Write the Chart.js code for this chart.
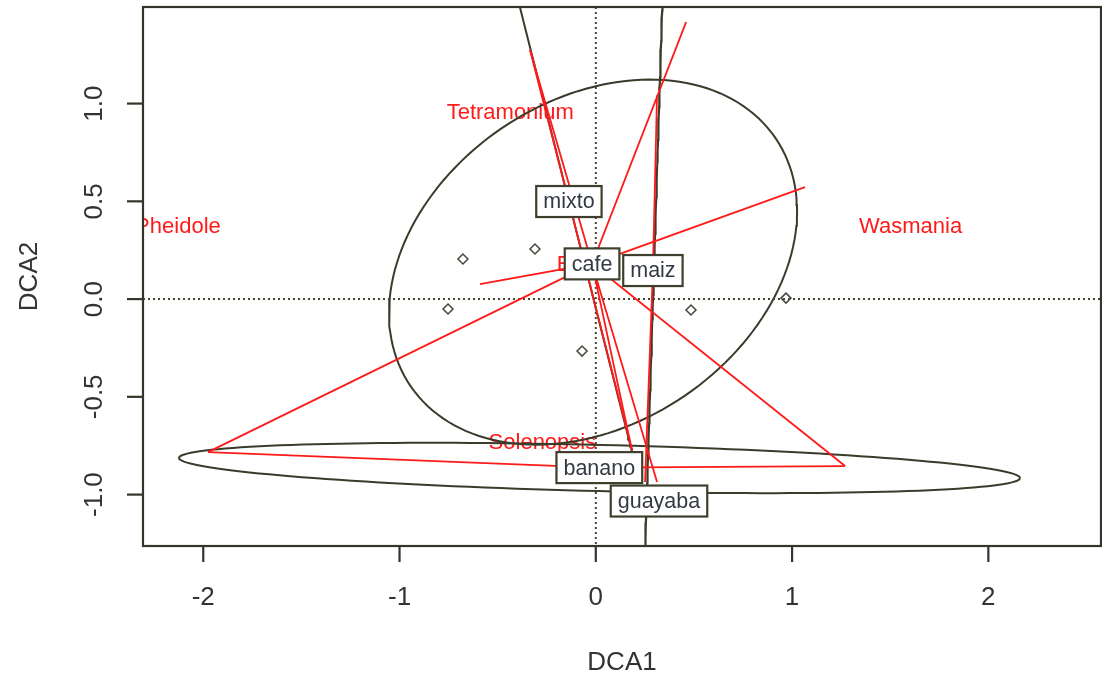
<!DOCTYPE html>
<html>
<head>
<meta charset="utf-8">
<script src="https://cdn.jsdelivr.net/npm/chart.js@4.4.1/dist/chart.umd.min.js"></script>
<style>
html,body{margin:0;padding:0;background:#fff;}
canvas{display:block;}
</style>
</head>
<body>
<canvas id="c" width="1102" height="684"></canvas>
<script>
// ---- axis ranges & ticks ----
const xRange = [-2.307, 2.574];
const yRange = [-1.263, 1.494];
const xTicks = [-2, -1, 0, 1, 2];
const xTickLabels = ['-2', '-1', '0', '1', '2'];
const yTicks = [-1.0, -0.5, 0.0, 0.5, 1.0];
const yTickLabels = ['-1.0', '-0.5', '0.0', '0.5', '1.0'];
const xTitle = 'DCA1';
const yTitle = 'DCA2';

// ---- site scores (open symbols) ----
const siteX = [-0.677, -0.310, -0.753, -0.070, 0.485, 0.969];
const siteY = [0.205, 0.256, -0.051, -0.266, -0.056, 0.005];

// ---- species scores (red text) ----
const speciesNames = ['Pheidole', 'Tetramonium', 'Wasmania', 'Solenopsis', 'E'];
const speciesX = [-2.129, -0.436, 1.604, -0.272, -0.162];
const speciesY = [0.368, 0.951, 0.368, -0.737, 0.174];

// ---- group centroids (boxed labels) ----
const groupNames = ['cafe', 'mixto', 'maiz', 'banano', 'guayaba'];
const centroidX = [-0.019, -0.137, 0.291, 0.018, 0.322];
const centroidY = [0.180, 0.499, 0.146, -0.862, -1.033];

// ---- spider end points per group ----
const cafeSpiderX = [-1.976, -0.590, 1.066, 0.460, 1.270, -0.335, 0.184, 0.312];
const cafeSpiderY = [-0.783, 0.077, 0.573, 1.417, -0.854, 1.274, -0.772, -0.936];
const mixtoSpiderX = [-0.335, 0.184];
const mixtoSpiderY = [1.274, -0.772];
const maizSpiderX = [0.312, 0.251];
const maizSpiderY = [1.043, -0.936];
const bananoSpiderX = [-1.976, 1.270];
const bananoSpiderY = [-0.783, -0.854];

// ---- dispersion ellipses: centre, semi-axes, rotation (deg) ----
const ellipseGroup = ['cafe', 'banano', 'mixto', 'maiz'];
const ellipseCX = [-0.014, 0.019, -0.137, 0.296];
const ellipseCY = [0.189, -0.864, 0.499, 0.146];
const ellipseA = [1.1255, 2.143, 1.319, 1.60];
const ellipseB = [0.828, 0.118, 0.0, 0.0];
const ellipseAngle = [34.45, -1.38, -75.9, 88.2];

// ---- build datasets ----
function ellipsePoints(i) {
  const pts = [];
  const th = ellipseAngle[i] * Math.PI / 180;
  const n = 160;
  for (let k = 0; k <= n; k++) {
    const t = 2 * Math.PI * k / n;
    pts.push({
      x: ellipseCX[i] + ellipseA[i] * Math.cos(th) * Math.cos(t) - ellipseB[i] * Math.sin(th) * Math.sin(t),
      y: ellipseCY[i] + ellipseA[i] * Math.sin(th) * Math.cos(t) + ellipseB[i] * Math.cos(th) * Math.sin(t)
    });
  }
  return pts;
}
function spider(g, xs, ys) {
  const i = groupNames.indexOf(g);
  const pts = [];
  for (let k = 0; k < xs.length; k++) {
    pts.push({x: centroidX[i], y: centroidY[i]});
    pts.push({x: xs[k], y: ys[k]});
  }
  return pts;
}

const RED = '#ff1a1a';
const DARK = '#3b3b2c';
const datasets = [];
datasets.push({
  label: 'sites', type: 'scatter',
  data: siteX.map((v, i) => ({x: v, y: siteY[i]})),
  pointStyle: 'rectRot', pointRadius: 5, borderColor: '#46463a', borderWidth: 1.5,
  backgroundColor: 'rgba(0,0,0,0)', order: 1
});
[['cafe', cafeSpiderX, cafeSpiderY], ['mixto', mixtoSpiderX, mixtoSpiderY],
 ['maiz', maizSpiderX, maizSpiderY], ['banano', bananoSpiderX, bananoSpiderY]].forEach(s => {
  datasets.push({
    label: 'spider ' + s[0], type: 'scatter', showLine: true,
    data: spider(s[0], s[1], s[2]),
    borderColor: RED, borderWidth: 1.8, pointRadius: 0, tension: 0, order: 2
  });
});
ellipseGroup.forEach((g, i) => {
  datasets.push({
    label: 'ellipse ' + g, type: 'scatter', showLine: true,
    data: ellipsePoints(i),
    borderColor: DARK, borderWidth: 2, pointRadius: 0, tension: 0, order: 3
  });
});

const FONT = '"Liberation Sans", Arial, sans-serif';

const rPlot = {
  id: 'rPlot',
  beforeDatasetsDraw(chart) {
    const {ctx, chartArea: ca, scales: {x, y}} = chart;
    ctx.save();
    ctx.beginPath();
    ctx.rect(ca.left, ca.top, ca.right - ca.left, ca.bottom - ca.top);
    ctx.clip();
    // dotted cross at zero
    ctx.strokeStyle = '#45452e';
    ctx.lineWidth = 2;
    ctx.setLineDash([2, 3]);
    ctx.beginPath();
    const x0 = x.getPixelForValue(0), y0 = y.getPixelForValue(0);
    ctx.moveTo(ca.left, y0); ctx.lineTo(ca.right, y0);
    ctx.moveTo(x0, ca.top); ctx.lineTo(x0, ca.bottom);
    ctx.stroke();
    ctx.setLineDash([]);
    // species names
    ctx.fillStyle = RED;
    ctx.font = '22px ' + FONT;
    ctx.textAlign = 'center';
    ctx.textBaseline = 'middle';
    speciesNames.forEach((n, i) => {
      ctx.fillText(n, x.getPixelForValue(speciesX[i]), y.getPixelForValue(speciesY[i]));
    });
    ctx.restore();
  },
  afterDatasetsDraw(chart) {
    const {ctx, chartArea: ca, scales: {x, y}} = chart;
    ctx.save();
    // boxed group labels
    ctx.font = '21.5px ' + FONT;
    ctx.textAlign = 'center';
    ctx.textBaseline = 'middle';
    groupNames.forEach((g, i) => {
      const px = x.getPixelForValue(centroidX[i]);
      const py = y.getPixelForValue(centroidY[i]);
      const w = ctx.measureText(g).width + 14;
      const h = 31;
      ctx.fillStyle = '#ffffff';
      ctx.fillRect(px - w / 2, py - h / 2, w, h);
      ctx.strokeStyle = '#3f3f2e';
      ctx.lineWidth = 2.2;
      ctx.strokeRect(px - w / 2, py - h / 2, w, h);
      ctx.fillStyle = '#343a42';
      ctx.fillText(g, px, py + 1);
    });
    // frame
    ctx.strokeStyle = '#34342a';
    ctx.lineWidth = 2.2;
    ctx.strokeRect(ca.left, ca.top, ca.right - ca.left, ca.bottom - ca.top);
    // x ticks
    ctx.fillStyle = '#333333';
    ctx.font = '26px ' + FONT;
    ctx.textAlign = 'center';
    ctx.textBaseline = 'middle';
    xTicks.forEach((v, i) => {
      const px = x.getPixelForValue(v);
      ctx.beginPath(); ctx.moveTo(px, ca.bottom); ctx.lineTo(px, ca.bottom + 16); ctx.stroke();
      ctx.fillText(xTickLabels[i], px, 598);
    });
    // y ticks (rotated labels)
    yTicks.forEach((v, i) => {
      const py = y.getPixelForValue(v);
      ctx.beginPath(); ctx.moveTo(ca.left, py); ctx.lineTo(ca.left - 16, py); ctx.stroke();
      ctx.save();
      ctx.translate(95, py);
      ctx.rotate(-Math.PI / 2);
      ctx.fillText(yTickLabels[i], 0, 0);
      ctx.restore();
    });
    // axis titles
    ctx.fillText(xTitle, (ca.left + ca.right) / 2, 663);
    ctx.save();
    ctx.translate(30, (ca.top + ca.bottom) / 2);
    ctx.rotate(-Math.PI / 2);
    ctx.fillText(yTitle, 0, 0);
    ctx.restore();
    ctx.restore();
  }
};

new Chart(document.getElementById('c'), {
  type: 'scatter',
  data: {datasets},
  options: {
    responsive: false,
    animation: false,
    devicePixelRatio: 1,
    layout: {autoPadding: false, padding: {left: 143, top: 7, right: 1, bottom: 138}},
    plugins: {legend: {display: false}, tooltip: {enabled: false}},
    elements: {line: {tension: 0}},
    scales: {
      x: {type: 'linear', min: xRange[0], max: xRange[1], display: false},
      y: {type: 'linear', min: yRange[0], max: yRange[1], display: false}
    }
  },
  plugins: [rPlot]
});
</script>
</body>
</html>
